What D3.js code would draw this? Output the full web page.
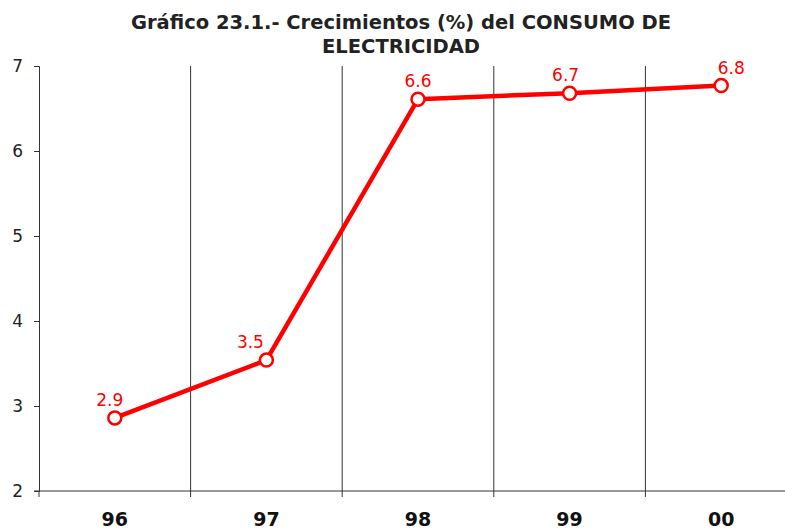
<!DOCTYPE html>
<html>
<head>
<meta charset="utf-8">
<script src="https://cdn.jsdelivr.net/npm/d3@7"></script>
<style>
  html, body { margin: 0; padding: 0; background: #fff; }
  svg { display: block; }
</style>
</head>
<body>
<svg id="chart" width="785" height="530"></svg>
<script>
// Crecimientos anuales del consumo de electricidad (%)
const years = ["96", "97", "98", "99", "00"];
const growth = [2.86, 3.54, 6.61, 6.68, 6.77];
const yTicks = [2, 3, 4, 5, 6, 7];
const titleLines = ["Gráfico 23.1.- Crecimientos (%) del CONSUMO DE", "ELECTRICIDAD"];

const svg = d3.select("#chart");
const plotLeft = 39, plotTop = 66, plotBottom = 491, bandW = 151.6;

const x = d3.scaleBand().domain(years).range([plotLeft, plotLeft + bandW * years.length]).padding(0);
const y = d3.scaleLinear().domain([2, 7]).range([plotBottom, plotTop]);

// Title
svg.append("g").selectAll("text").data(titleLines).join("text")
  .attr("x", 401).attr("y", (d, i) => 29 + i * 24)
  .attr("text-anchor", "middle")
  .attr("font-family", "DejaVu Sans, Verdana, sans-serif")
  .attr("font-weight", "bold").attr("font-size", 19.5)
  .attr("fill", "#222")
  .text(d => d);

// Vertical separators between categories
const bounds = years.slice(1).map(d => x(d));
svg.append("g").selectAll("line").data(bounds).join("line")
  .attr("x1", d => d).attr("x2", d => d)
  .attr("y1", plotTop).attr("y2", plotBottom + 6)
  .attr("stroke", "#333").attr("stroke-width", 1);

// Y axis
const yAxis = svg.append("g").attr("transform", `translate(${plotLeft},0)`)
  .call(d3.axisLeft(y).tickValues(yTicks).tickSize(5).tickPadding(11).tickFormat(d3.format("d")));
yAxis.select(".domain").attr("stroke", "#333");
yAxis.selectAll(".tick line").attr("stroke", "#333");
yAxis.selectAll(".tick text")
  .attr("font-family", "DejaVu Sans, Verdana, sans-serif")
  .attr("font-size", 17).attr("fill", "#222");

// X axis
svg.append("line")
  .attr("x1", plotLeft - 5).attr("x2", 785)
  .attr("y1", plotBottom).attr("y2", plotBottom)
  .attr("stroke", "#333");
svg.append("line")
  .attr("x1", plotLeft).attr("x2", plotLeft)
  .attr("y1", plotBottom).attr("y2", plotBottom + 6)
  .attr("stroke", "#333");
svg.append("g").selectAll("text").data(years).join("text")
  .attr("x", d => x(d) + x.bandwidth() / 2)
  .attr("y", 525.5)
  .attr("text-anchor", "middle")
  .attr("font-family", "DejaVu Sans, Verdana, sans-serif")
  .attr("font-weight", "bold").attr("font-size", 19)
  .attr("fill", "#111")
  .text(d => d);

// Series line
const pts = years.map((d, i) => [x(d) + x.bandwidth() / 2, y(growth[i])]);
svg.append("path")
  .attr("d", d3.line()(pts))
  .attr("fill", "none").attr("stroke", "#ff0000")
  .attr("stroke-width", 4.5).attr("stroke-linejoin", "round");

svg.append("g").selectAll("circle").data(pts).join("circle")
  .attr("cx", d => d[0]).attr("cy", d => d[1]).attr("r", 6.5)
  .attr("fill", "#fff").attr("stroke", "#ff0000").attr("stroke-width", 2.5);

// Value labels
const fmt = d3.format(".1f");
const labelShift = [-5, -16, 0, -4, 10];
svg.append("g").selectAll("text").data(growth).join("text")
  .attr("x", (d, i) => pts[i][0] + labelShift[i])
  .attr("y", (d, i) => pts[i][1] - 12)
  .attr("text-anchor", "middle")
  .attr("font-family", "DejaVu Sans, Verdana, sans-serif")
  .attr("font-size", 17).attr("fill", "#ff0000")
  .text(d => fmt(d));
</script>
</body>
</html>
